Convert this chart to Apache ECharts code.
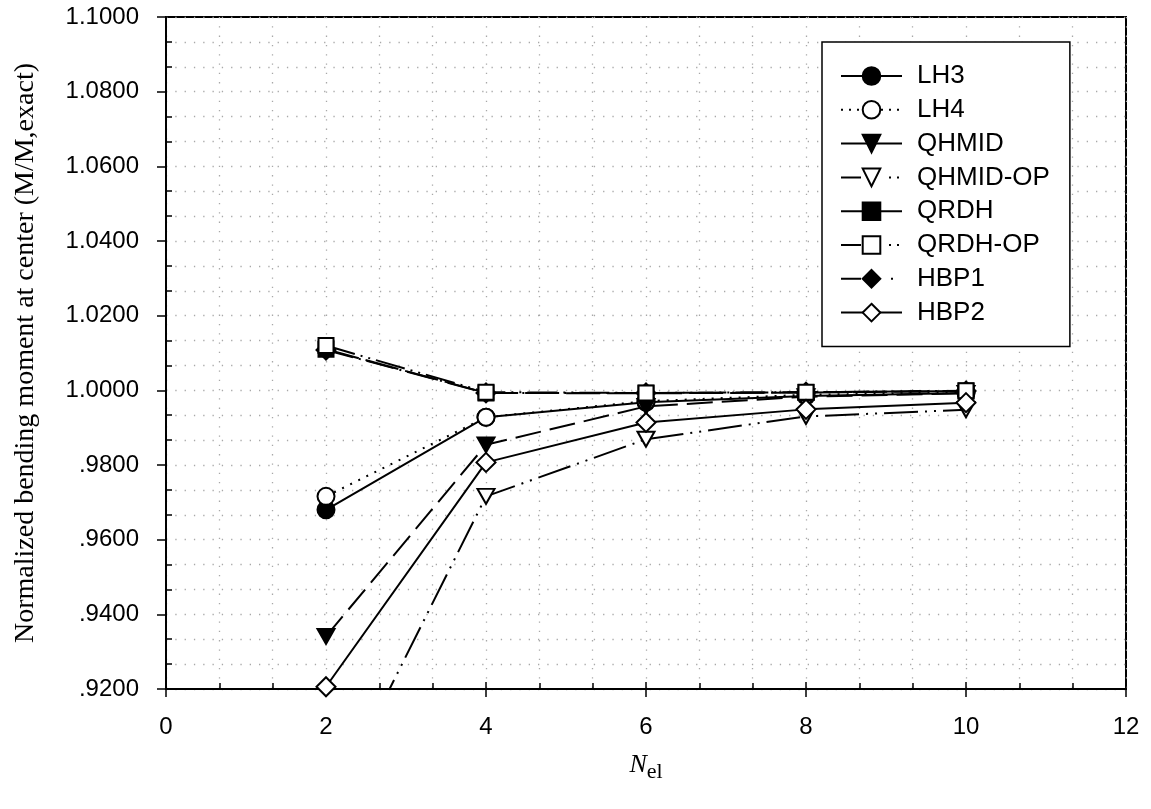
<!DOCTYPE html>
<html>
<head>
<meta charset="utf-8">
<script src="https://cdn.jsdelivr.net/npm/echarts@6/dist/echarts.min.js"></script>
<style>
  html, body { margin: 0; padding: 0; background: #ffffff; }
  #chart { width: 1151px; height: 809px; }
</style>
</head>
<body>
<div id="chart"></div>
<script>
// Number of elements along the edge
const nEl = [2, 4, 6, 8, 10];

// Normalized bending moment at the plate centre, one list per element type
const lh3      = [0.9680, 0.9928, 0.9968, 0.9985, 0.9993];
const lh4      = [0.9716, 0.9928, 0.9971, 0.9988, 0.9995];
const qhmid    = [0.9341, 0.9854, 0.9957, 0.9983, 0.9992];
const qhmidOp  = [0.8860, 0.9716, 0.9869, 0.9930, 0.9948];
const qrdh     = [1.0110, 0.9993, 0.9992, 0.9994, 0.9998];
const qrdhOp   = [1.0120, 0.9995, 0.9993, 0.9995, 0.9999];
const hbp1     = [1.0108, 0.9993, 0.9993, 0.9995, 0.9998];
const hbp2     = [0.9206, 0.9807, 0.9914, 0.9949, 0.9967];

// Axis tick labels
const xTickLabels = ['0', '2', '4', '6', '8', '10', '12'];
const yTickLabels = ['.9200', '.9400', '.9600', '.9800', '1.0000', '1.0200', '1.0400', '1.0600', '1.0800', '1.1000'];

const seriesNames = ['LH3', 'LH4', 'QHMID', 'QHMID-OP', 'QRDH', 'QRDH-OP', 'HBP1', 'HBP2'];

const SANS = 'Liberation Sans, Arial, sans-serif';
const SERIF = 'Liberation Serif, Times New Roman, serif';

function lineSeries(name, values, opts) {
  return {
    name: name,
    type: 'line',
    data: nEl.map((x, i) => [x, values[i]]),
    symbol: opts.symbol,
    symbolSize: opts.size,
    symbolRotate: opts.rotate || 0,
    showSymbol: true,
    clip: true,
    z: opts.z || 3,
    lineStyle: { color: '#000', width: 2, type: opts.dash },
    itemStyle: {
      color: opts.filled ? '#000' : '#fff',
      borderColor: '#000',
      borderWidth: 2
    },
    emphasis: { disabled: true },
    animation: false
  };
}

const series = [
  lineSeries('LH3', lh3, { symbol: 'circle', size: 17, filled: true, dash: 'solid' }),
  lineSeries('LH4', lh4, { symbol: 'circle', size: 17, filled: false, dash: [2, 7] }),
  lineSeries('QHMID', qhmid, { symbol: 'triangle', size: [17, 15], rotate: 180, filled: true, dash: [26, 9] }),
  lineSeries('QHMID-OP', qhmidOp, { symbol: 'triangle', size: [17, 15], rotate: 180, filled: false, dash: [34, 7, 2, 7, 2, 7] }),
  lineSeries('QRDH', qrdh, { symbol: 'rect', size: 15, filled: true, dash: [34, 7] }),
  lineSeries('QRDH-OP', qrdhOp, { symbol: 'rect', size: 15, filled: false, dash: [30, 6, 2, 6, 2, 6] }),
  lineSeries('HBP1', hbp1, { symbol: 'diamond', size: 19, filled: true, dash: [28, 6, 2, 6], z: 2 }),
  lineSeries('HBP2', hbp2, { symbol: 'diamond', size: 19, filled: false, dash: 'solid' })
];

// Legend line patterns (short sample segments)
const legendDash = {
  'LH3': 'solid',
  'LH4': [2, 6],
  'QHMID': 'solid',
  'QHMID-OP': [20, 28, 2, 6, 2, 40],
  'QRDH': 'solid',
  'QRDH-OP': [20, 28, 2, 6, 2, 40],
  'HBP1': [20, 30, 2, 40],
  'HBP2': 'solid'
};

const dottedGrid = { show: true, lineStyle: { color: '#a8a8a8', width: 1.3, type: [1.3, 8] } };

const option = {
  backgroundColor: '#ffffff',
  animation: false,
  grid: {
    left: 166, right: 25, top: 17, bottom: 120,
    show: true, borderColor: '#000', borderWidth: 2, backgroundColor: 'transparent'
  },
  legend: {
    orient: 'vertical',
    left: 822, top: 42,
    backgroundColor: '#fff',
    borderColor: '#000', borderWidth: 1.5,
    padding: [21, 20, 21, 18],
    itemWidth: 61, itemHeight: 22, itemGap: 7.8,
    selectedMode: false,
    textStyle: { fontFamily: SANS, fontSize: 26, color: '#000', lineHeight: 22, padding: [0, 0, 0, 10] },
    data: seriesNames.map(n => ({ name: n, lineStyle: { type: legendDash[n], width: 2, color: '#000' } })),
    z: 10
  },
  xAxis: [
    {
      type: 'value', position: 'bottom', min: 0, max: 12, interval: 2,
      name: '{i|N}{s|el}', nameLocation: 'middle', nameGap: 58,
      nameTextStyle: {
        rich: {
          i: { fontFamily: SERIF, fontStyle: 'italic', fontSize: 26, color: '#000' },
          s: { fontFamily: SERIF, fontSize: 22, color: '#000', padding: [14, 0, 0, 0] }
        }
      },
      axisLine: { show: true, lineStyle: { color: '#000', width: 2 } },
      axisTick: { show: true, inside: false, length: 8, lineStyle: { color: '#000', width: 1.5 } },
      axisLabel: { fontFamily: SANS, fontSize: 24, color: '#000', margin: 26, formatter: (v, i) => xTickLabels[i] },
      splitLine: dottedGrid,
      minorTick: { show: false, splitNumber: 3 },
      minorSplitLine: dottedGrid
    },
    {
      type: 'value', position: 'bottom', min: 0, max: 12, interval: 2,
      axisLine: { show: false },
      axisTick: { show: true, inside: true, length: 7, lineStyle: { color: '#000', width: 1.5 } },
      axisLabel: { show: false },
      splitLine: { show: false },
      minorTick: { show: true, splitNumber: 3, length: 6, lineStyle: { color: '#000', width: 1.5 } }
    }
  ],
  yAxis: [
    {
      type: 'value', position: 'left', min: 0.92, max: 1.10, interval: 0.02,
      name: 'Normalized bending moment at center (M/M,exact)',
      nameLocation: 'middle', nameGap: 126,
      nameTextStyle: { fontFamily: SERIF, fontSize: 28, color: '#000' },
      axisLine: { show: true, lineStyle: { color: '#000', width: 2 } },
      axisTick: { show: true, inside: false, length: 9, lineStyle: { color: '#000', width: 1.5 } },
      axisLabel: { fontFamily: SANS, fontSize: 24, color: '#000', margin: 27, formatter: (v, i) => yTickLabels[i] },
      splitLine: dottedGrid,
      minorTick: { show: false, splitNumber: 3 },
      minorSplitLine: dottedGrid
    },
    {
      type: 'value', position: 'left', min: 0.92, max: 1.10, interval: 0.02,
      axisLine: { show: false },
      axisTick: { show: false, inside: true },
      axisLabel: { show: false },
      splitLine: { show: false },
      minorTick: { show: true, splitNumber: 3, length: 6, lineStyle: { color: '#000', width: 1.5 } }
    }
  ],
  series: series
};

const chart = echarts.init(document.getElementById('chart'), null, { renderer: 'canvas' });
chart.setOption(option);
</script>
</body>
</html>
